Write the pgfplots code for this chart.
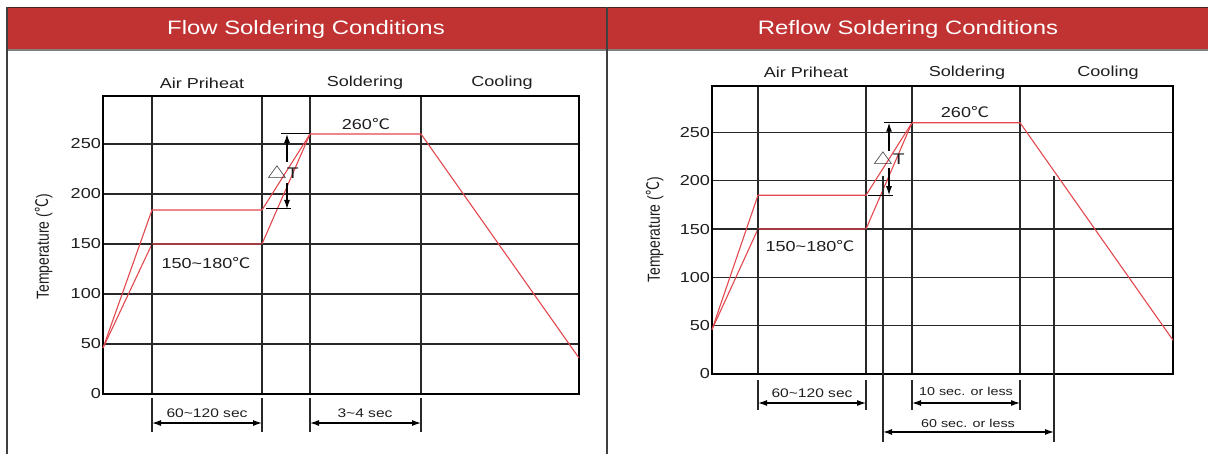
\documentclass[border=0pt]{standalone}
\usepackage{pgfplots}
\pgfplotsset{compat=1.18}
\usetikzlibrary{arrows.meta}
\usepackage{fontspec}
\setmainfont{Liberation Sans}
\newfontfamily\cjk{Noto Sans CJK SC}
\newcommand{\dc}{{\cjk ℃}}
\newcommand{\tri}{{\cjk △}}
\newcommand{\fs}[1]{\fontsize{#1}{#1}\selectfont}

\definecolor{hdr}{RGB}{193,50,50}
\definecolor{hdrline}{RGB}{70,35,35}
\definecolor{prof}{RGB}{226,72,78}
\definecolor{gridc}{RGB}{40,40,40}
\definecolor{txt}{RGB}{30,30,30}

\pgfplotsset{
  solder/.style={
    scale only axis, clip=false,
    ymin=0, ymax=298,
    ytick={0,50,...,250},
    xticklabels={},
    major tick length=0pt,
    xmajorgrids, ymajorgrids,
    major grid style={draw=gridc, line width=1.3bp},
    axis line style={draw=black, line width=1.6bp},
    /pgf/number format/assume math mode=true,
    yticklabel style={font=\fs{14.5}, text=txt, xscale=1.25, inner sep=1.5bp},
  },
  prof/.style={draw=prof, line width=1.1bp, no marks},
}
\tikzset{
  ah/.tip={Latex[length=9bp,width=6bp]},
  dim/.style={draw=black, line width=1.2bp, ah-ah},
  ext/.style={draw=gridc, line width=1.4bp},
  lab/.style={font=\fs{14.5}, text=txt, xscale=1.25, inner sep=0pt},
  slab/.style={font=\fs{12.5}, text=txt, xscale=1.25, inner sep=0pt},
}

\begin{document}
\begin{tikzpicture}[x=1bp,y=1bp]
\useasboundingbox (0,0) rectangle (1208,-454);

% header bars
\fill[hdr] (7,-7.5) rectangle (1208,-50);
\draw[hdrline, line width=1.5bp] (7,-7.5) -- (1208,-7.5);
\draw[gray, line width=1.2bp] (7,-50) -- (1208,-50);
\draw[black!75, line width=1.5bp] (7,-7.5) -- (7,-454);
\draw[black!75, line width=1.5bp] (607,-7.5) -- (607,-454);
\node[white, font=\fs{19.5}, xscale=1.23] at (306,-29.5) {Flow Soldering Conditions};
\node[white, font=\fs{19.5}, xscale=1.23] at (908,-29.5) {Reflow Soldering Conditions};

% ---------------- Flow soldering
\begin{axis}[solder,
  at={(103bp,-394bp)}, anchor=south west,
  width=476bp, height=298bp,
  xmin=0, xmax=476,
  xtick={49,159,207,318},
]
\addplot[prof] coordinates {(0,46) (49,184) (159,184) (207,260) (318,260) (476,36)};
\addplot[prof] coordinates {(0,46) (49,150) (159,150) (207,260)};

% phase labels
\node[lab] at (axis cs:99,311) {Air Priheat};
\node[lab] at (axis cs:262,311) {Soldering};
\node[lab] at (axis cs:399,311) {Cooling};
\node[lab] at (axis cs:263,270) {260\dc};
\node[lab] at (axis cs:103,131) {150\textasciitilde180\dc};
\node[rotate=90, yscale=1.25, font=\fs{14}, text=txt] at (axis cs:-59,147) {Temperature (\dc)};

% thick markers below plateau
\draw[ext, line width=1.7bp] (axis cs:49,150) -- (axis cs:49,112);
\draw[ext, line width=1.7bp] (axis cs:159,150) -- (axis cs:159,112);

% delta T
\draw[black, line width=1bp] (axis cs:178,260) -- (axis cs:207,260);
\draw[black, line width=1bp] (axis cs:163,185) -- (axis cs:188,185);
\draw[black, line width=1.2bp, -ah] (axis cs:184,232) -- (axis cs:184,260);
\draw[black, line width=1.2bp, -ah] (axis cs:184,211) -- (axis cs:184,185);
\node[font=\fs{15.5}, text=txt, xscale=1.25, inner sep=0pt] at (axis cs:180,222) {\tri T};

% bottom dimensions
\draw[ext] (axis cs:49,-4) -- (axis cs:49,-38);
\draw[ext] (axis cs:159,-4) -- (axis cs:159,-38);
\draw[ext] (axis cs:207,-4) -- (axis cs:207,-38);
\draw[ext] (axis cs:318,-4) -- (axis cs:318,-38);
\draw[dim] (axis cs:49,-29) -- (axis cs:159,-29);
\draw[dim] (axis cs:207,-29) -- (axis cs:318,-29);
\node[slab] at (axis cs:104,-19) {60\textasciitilde120 sec};
\node[slab] at (axis cs:262,-19) {3\textasciitilde4 sec};
\end{axis}

% ---------------- Reflow soldering
\begin{axis}[solder,
  at={(712bp,-374bp)}, anchor=south west,
  width=461bp, height=288bp,
  xmin=0, xmax=461,
  xtick={46,154,200,308},
]
\addplot[prof] coordinates {(0,46) (46,185) (154,185) (200,260) (308,260) (461,35)};
\addplot[prof] coordinates {(0,46) (46,150) (154,150) (200,260)};

\node[lab] at (axis cs:94,312) {Air Priheat};
\node[lab] at (axis cs:255,312) {Soldering};
\node[lab] at (axis cs:396,312) {Cooling};
\node[lab] at (axis cs:253,271) {260\dc};
\node[lab] at (axis cs:98,132) {150\textasciitilde180\dc};
\node[rotate=90, yscale=1.25, font=\fs{14}, text=txt] at (axis cs:-57,149) {Temperature (\dc)};

\draw[ext, line width=1.7bp] (axis cs:46,150) -- (axis cs:46,112);
\draw[ext, line width=1.7bp] (axis cs:154,150) -- (axis cs:154,112);

% 60 sec window lines
\draw[ext] (axis cs:171,205) -- (axis cs:171,-70);
\draw[ext] (axis cs:342,205) -- (axis cs:342,-70);

% delta T
\draw[black, line width=1bp] (axis cs:172,260) -- (axis cs:200,260);
\draw[black, line width=1bp] (axis cs:156,185) -- (axis cs:181,185);
\draw[black, line width=1.2bp, -ah] (axis cs:177,231) -- (axis cs:177,260);
\draw[black, line width=1.2bp, -ah] (axis cs:177,213) -- (axis cs:177,185);
\node[font=\fs{15.5}, text=txt, xscale=1.25, inner sep=0pt] at (axis cs:177,223) {\tri T};

\draw[ext] (axis cs:46,-6) -- (axis cs:46,-37);
\draw[ext] (axis cs:154,-6) -- (axis cs:154,-37);
\draw[ext] (axis cs:200,-6) -- (axis cs:200,-37);
\draw[ext] (axis cs:308,-6) -- (axis cs:308,-37);
\draw[dim] (axis cs:46,-30) -- (axis cs:154,-30);
\draw[dim] (axis cs:200,-30) -- (axis cs:308,-30);
\draw[dim] (axis cs:171,-60) -- (axis cs:342,-60);
\node[slab] at (axis cs:100,-20) {60\textasciitilde120 sec};
\node[font=\fs{11.5}, text=txt, xscale=1.25, inner sep=0pt] at (axis cs:254,-18) {10 sec. or less};
\node[font=\fs{11.5}, text=txt, xscale=1.25, inner sep=0pt] at (axis cs:256,-51) {60 sec. or less};
\end{axis}
\end{tikzpicture}
\end{document}
